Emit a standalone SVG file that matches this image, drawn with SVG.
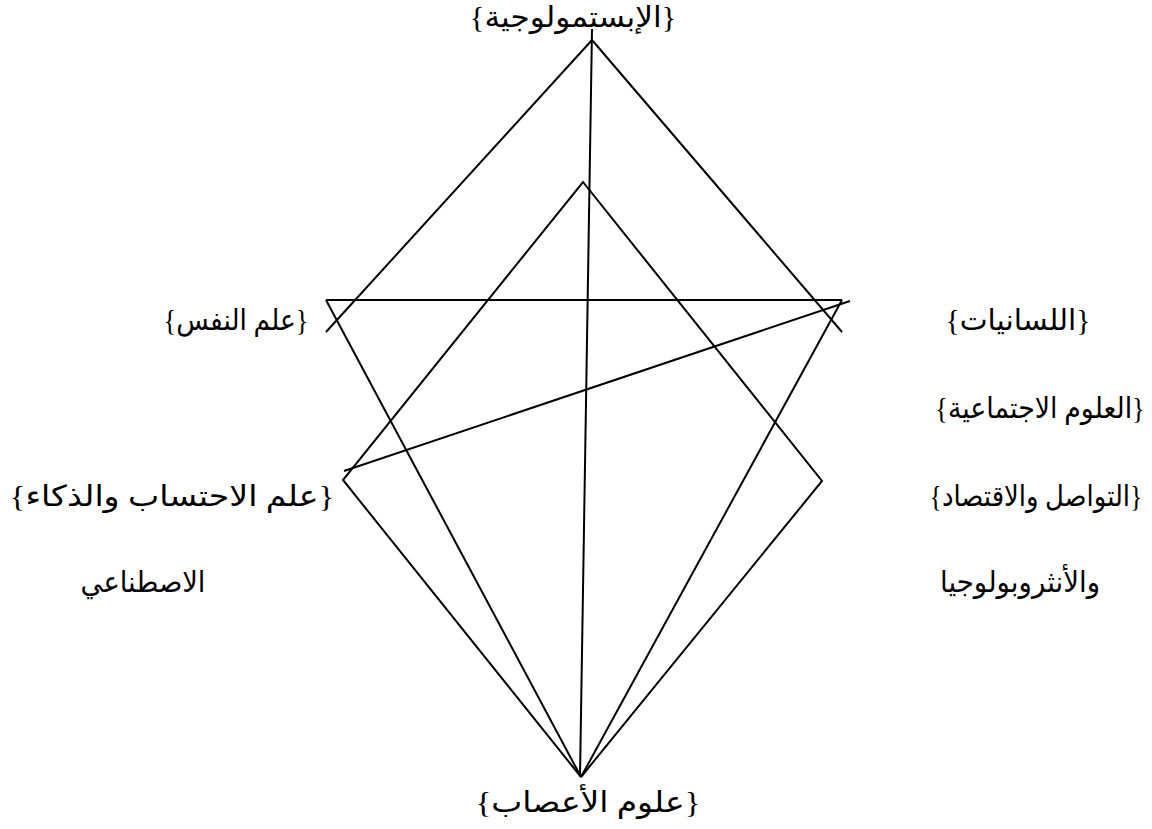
<svg xmlns="http://www.w3.org/2000/svg" width="1152" height="829" viewBox="0 0 1152 829">
<style>
.l{stroke:#000;stroke-width:2;fill:none}
text{font-family:"Liberation Serif","DejaVu Sans",serif;font-size:29px;fill:#000;text-anchor:middle}
</style>
<rect width="1152" height="829" fill="#fff"/>
<g id="connectors">
<line class="l" x1="592" y1="40" x2="326" y2="332"/>
<line class="l" x1="592" y1="40" x2="842" y2="332"/>
<line class="l" x1="592" y1="29" x2="580" y2="777"/>
<line class="l" x1="326" y1="300" x2="842" y2="300"/>
<line class="l" x1="326" y1="300" x2="581" y2="777"/>
<line class="l" x1="842" y1="300" x2="581" y2="777"/>
<line class="l" x1="344" y1="471" x2="850" y2="301"/>
<polyline class="l" points="581,777 343,480 583,182 822,481 581,777"/>
</g>
<g id="n-epistemology"><text x="573" y="27" textLength="207" lengthAdjust="spacingAndGlyphs">{الإبستمولوجية}</text></g>
<g id="n-psychology"><text x="236" y="330" textLength="145" lengthAdjust="spacingAndGlyphs">{علم النفس}</text></g>
<g id="n-linguistics"><text x="1018" y="330" textLength="145" lengthAdjust="spacingAndGlyphs">{اللسانيات}</text></g>
<g id="n-social"><text x="1040" y="418" textLength="210" lengthAdjust="spacingAndGlyphs">{العلوم الاجتماعية}</text><text x="1036" y="506" textLength="213" lengthAdjust="spacingAndGlyphs">{التواصل والاقتصاد}</text><text x="1020" y="592" textLength="160" lengthAdjust="spacingAndGlyphs">والأنثروبولوجيا</text></g>
<g id="n-computation"><text x="172" y="506" textLength="325" lengthAdjust="spacingAndGlyphs">{علم الاحتساب والذكاء}</text><text x="143" y="592" textLength="125" lengthAdjust="spacingAndGlyphs">الاصطناعي</text></g>
<g id="n-neuro"><text x="588" y="812" textLength="225" lengthAdjust="spacingAndGlyphs">{علوم الأعصاب}</text></g>
</svg>
